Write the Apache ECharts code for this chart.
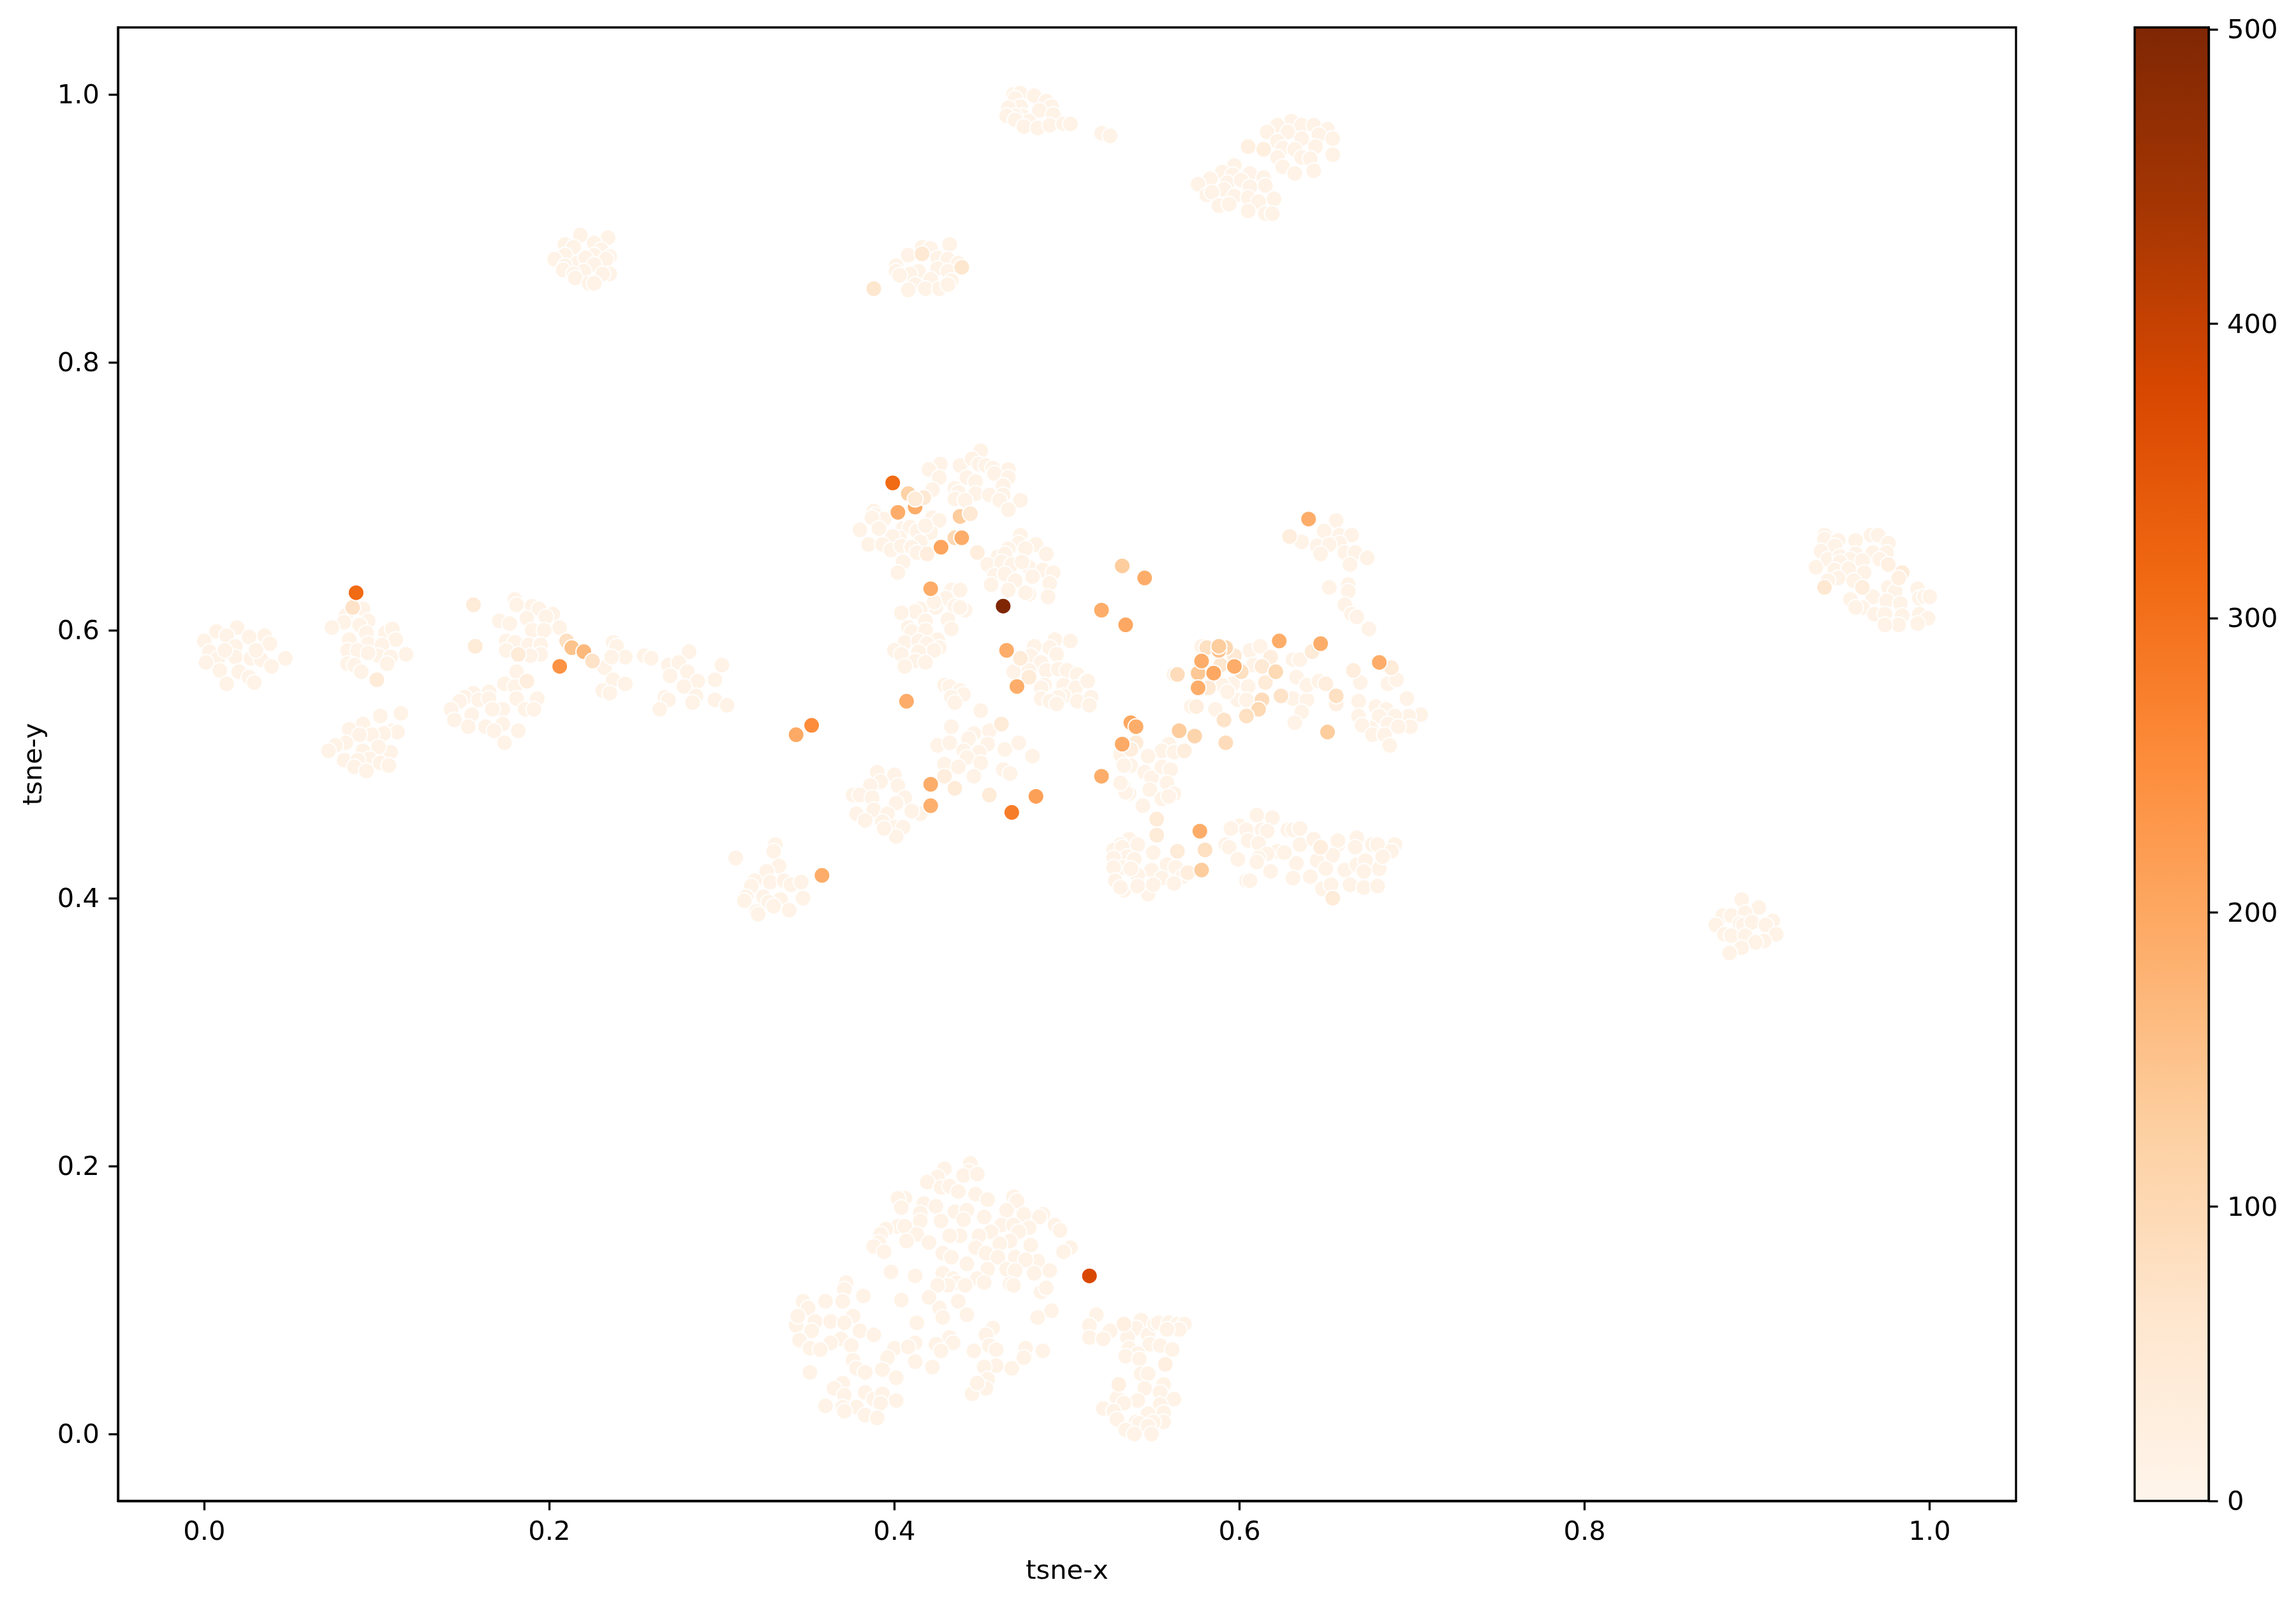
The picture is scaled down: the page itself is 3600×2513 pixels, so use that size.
<!DOCTYPE html>
<html>
<head>
<meta charset="utf-8">
<title>tsne scatter</title>
<script src="https://cdn.jsdelivr.net/npm/echarts@6/dist/echarts.min.js"></script>
<style>
    html, body { margin: 0; padding: 0; background: #fff; }
    #chart { width: 3600px; height: 2513px; }
</style>
</head>
<body>
<div id="chart"></div>
<script>
// tick labels
const xTicks = [0, 0.2, 0.4, 0.6, 0.8, 1];
const yTicks = [0, 0.2, 0.4, 0.6, 0.8, 1];
const barTicks = [0, 100, 200, 300, 400, 500];
const barMax = 500.65;
const paleCount = 8;

// matplotlib Oranges
const oranges = ["#fff5eb", "#fee6ce", "#fdd0a2", "#fdae6b", "#fd8d3c", "#f16913", "#d94801", "#a63603", "#7f2704"];

// clusters of [tsne-x, tsne-y], all of them at the low end of the colour scale
const leftA = [[.019,.602],[.007,.599],[.000,.592],[.013,.596],[.035,.596],[.026,.595],[.038,.590],[.018,.588],[.003,.584],[.008,.579],[.018,.580],[.027,.579],[.033,.578],[.047,.579],[.001,.576],[.039,.573],[.009,.570],[.020,.569],[.026,.565],[.029,.561],[.013,.560],[.030,.585],[.012,.585]];
const leftB = [[.092,.616],[.082,.611],[.081,.606],[.095,.607],[.074,.602],[.090,.604],[.094,.598],[.105,.598],[.109,.601],[.111,.593],[.084,.593],[.095,.590],[.103,.589],[.083,.585],[.089,.585],[.101,.581],[.095,.583],[.117,.582],[.108,.580],[.083,.575],[.087,.574],[.106,.575],[.091,.569]];
const leftC = [[.102,.536],[.114,.538],[.092,.530],[.084,.526],[.109,.525],[.112,.524],[.104,.523],[.097,.522],[.090,.522],[.082,.516],[.076,.514],[.072,.510],[.092,.510],[.108,.509],[.101,.513],[.081,.503],[.096,.504],[.089,.503],[.102,.501],[.107,.499],[.087,.498],[.094,.495]];
const leftD = [[.181,.569],[.174,.560],[.180,.558],[.165,.554],[.156,.553],[.151,.550],[.148,.547],[.159,.548],[.165,.549],[.181,.549],[.193,.549],[.173,.541],[.167,.541],[.143,.541],[.155,.537],[.186,.541],[.191,.541],[.145,.533],[.163,.528],[.153,.528],[.173,.530],[.168,.525],[.182,.525],[.174,.516]];
const leftE = [[.180,.623],[.181,.619],[.190,.618],[.194,.616],[.202,.612],[.198,.610],[.171,.607],[.177,.605],[.187,.609],[.206,.602],[.190,.600],[.197,.600],[.175,.592],[.180,.591],[.188,.589],[.195,.589],[.175,.585],[.195,.582],[.189,.581]];
const leftF = [[.237,.591],[.239,.588],[.232,.572],[.244,.580],[.236,.580],[.255,.581],[.259,.579],[.237,.563],[.244,.560],[.231,.555],[.235,.553],[.281,.584],[.269,.574],[.275,.576],[.280,.569],[.270,.566],[.300,.574],[.286,.562],[.296,.563],[.278,.558],[.285,.551],[.283,.546],[.296,.548],[.303,.544],[.267,.550],[.269,.548],[.264,.541]];
const topLeft = [[.218,.895],[.234,.893],[.209,.888],[.214,.886],[.226,.889],[.230,.884],[.209,.880],[.235,.879],[.203,.877],[.226,.880],[.233,.877],[.216,.874],[.221,.878],[.209,.872],[.226,.873],[.208,.869],[.235,.866],[.220,.868],[.231,.866],[.214,.866],[.215,.863],[.223,.859],[.226,.859]];
const topMid = [[.432,.888],[.416,.886],[.421,.885],[.408,.880],[.425,.878],[.431,.877],[.437,.874],[.401,.872],[.401,.868],[.414,.868],[.425,.870],[.409,.866],[.403,.865],[.431,.868],[.421,.862],[.433,.861],[.412,.858],[.408,.854],[.418,.855],[.426,.855],[.431,.858]];
const topPeak = [[.469,1.000],[.473,1.001],[.481,.999],[.488,.995],[.470,.997],[.491,.991],[.473,.991],[.466,.990],[.484,.988],[.474,.984],[.470,.984],[.465,.984],[.492,.985],[.478,.980],[.470,.981],[.475,.976],[.483,.975],[.490,.977],[.498,.978],[.502,.978],[.520,.971],[.525,.969]];
const topRight = [[.630,.980],[.622,.977],[.636,.977],[.643,.977],[.651,.974],[.616,.972],[.628,.972],[.646,.970],[.654,.967],[.636,.967],[.622,.965],[.625,.960],[.632,.959],[.644,.961],[.654,.955],[.636,.953],[.641,.952],[.622,.953],[.625,.946],[.632,.941],[.643,.943]];
const topRight2 = [[.597,.947],[.590,.942],[.606,.941],[.614,.938],[.583,.937],[.596,.940],[.593,.934],[.601,.936],[.576,.933],[.606,.931],[.615,.932],[.591,.929],[.581,.925],[.584,.927],[.597,.924],[.605,.923],[.620,.922],[.611,.920],[.588,.917],[.594,.918],[.605,.913],[.615,.911],[.619,.911]];
const upperCentre = [[.450,.734],[.4266,.724],[.420,.720],[.426,.714],[.438,.723],[.445,.728],[.449,.724],[.453,.723],[.457,.721],[.466,.720],[.458,.717],[.466,.714],[.442,.714],[.447,.711],[.422,.705],[.435,.706],[.437,.703],[.447,.702],[.455,.701],[.463,.708],[.463,.701],[.461,.697],[.473,.697],[.466,.690],[.435,.698],[.441,.697]];
const upperLeft = [[.388,.689],[.389,.686],[.394,.683],[.387,.684],[.422,.684],[.426,.682],[.380,.675],[.391,.676],[.405,.676],[.409,.677],[.413,.674],[.421,.673],[.403,.669],[.399,.670],[.385,.664],[.393,.664],[.398,.660],[.404,.663],[.415,.666],[.410,.662],[.413,.658],[.405,.651],[.402,.643],[.418,.678]];
const upperRight = [[.473,.671],[.482,.664],[.472,.665],[.476,.661],[.466,.661],[.460,.655],[.464,.657],[.488,.657],[.454,.649],[.462,.651],[.468,.649],[.478,.647],[.486,.645],[.492,.643],[.458,.641],[.464,.642],[.480,.640],[.470,.637],[.456,.634],[.490,.635],[.466,.630],[.478,.627],[.489,.625],[.476,.628],[.474,.651]];
const midLeft = [[.433,.630],[.438,.630],[.430,.624],[.424,.617],[.415,.616],[.412,.614],[.404,.613],[.435,.618],[.441,.615],[.438,.617],[.423,.621],[.431,.608],[.418,.607],[.408,.602],[.410,.599],[.418,.600],[.433,.601],[.425,.593],[.406,.591],[.414,.592],[.419,.590],[.426,.587],[.423,.585],[.400,.585],[.404,.582],[.414,.584],[.412,.577],[.418,.576],[.406,.573]];
const midRight = [[.493,.593],[.502,.592],[.481,.588],[.490,.587],[.494,.582],[.479,.581],[.485,.576],[.469,.569],[.478,.570],[.488,.570],[.495,.571],[.500,.570],[.506,.567],[.511,.562],[.487,.559],[.485,.557],[.498,.559],[.505,.557],[.498,.551],[.495,.550],[.485,.549],[.490,.547],[.514,.550],[.506,.547],[.494,.545],[.513,.544],[.512,.562],[.514,.550],[.513,.544]];
const lowerMid = [[.429,.559],[.432,.558],[.438,.555],[.440,.552],[.433,.550],[.435,.546],[.450,.540],[.433,.528],[.455,.525],[.446,.523],[.443,.519],[.425,.514],[.432,.516],[.454,.515],[.440,.510],[.464,.511],[.472,.516],[.449,.509],[.442,.505],[.480,.506],[.450,.501],[.429,.500],[.437,.498],[.463,.496],[.467,.493],[.446,.491],[.415,.463]];
const lowerLeft = [[.390,.494],[.400,.492],[.392,.487],[.386,.484],[.402,.484],[.376,.477],[.380,.477],[.387,.475],[.406,.475],[.401,.471],[.410,.465],[.378,.463],[.388,.466],[.396,.463],[.383,.458],[.393,.457],[.400,.453],[.405,.453],[.401,.446],[.394,.452]];
const smallCluster = [[.331,.440],[.330,.435],[.308,.430],[.333,.424],[.326,.420],[.319,.413],[.328,.412],[.336,.413],[.340,.410],[.346,.412],[.317,.409],[.314,.401],[.324,.401],[.334,.399],[.347,.400],[.327,.397],[.313,.398],[.320,.390],[.339,.391],[.330,.394],[.321,.388]];
const rightCentre = [[.578,.588],[.606,.585],[.612,.588],[.631,.578],[.635,.578],[.562,.567],[.608,.574],[.596,.560],[.590,.559],[.605,.558],[.599,.548],[.593,.554],[.604,.548],[.586,.541],[.572,.543],[.633,.565],[.631,.549],[.639,.548],[.639,.559],[.646,.562],[.636,.539],[.632,.531]];
const rightEdge = [[.670,.561],[.686,.560],[.691,.563],[.669,.547],[.697,.549],[.705,.537],[.698,.536],[.669,.536],[.679,.543],[.685,.541],[.681,.536],[.690,.536],[.686,.530],[.676,.527],[.699,.528],[.692,.528],[.671,.529],[.677,.522],[.684,.522],[.687,.514]];
const rightUpper = [[.656,.682],[.636,.666],[.649,.674],[.645,.663],[.658,.671],[.665,.671],[.658,.665],[.652,.664],[.661,.658],[.647,.657],[.667,.658],[.674,.654],[.664,.649],[.652,.632],[.663,.634],[.663,.629],[.661,.619],[.665,.612],[.668,.610],[.675,.601]];
const belowCentre = [[.559,.515],[.555,.510],[.547,.506],[.531,.507],[.562,.509],[.537,.499],[.533,.499],[.545,.494],[.549,.490],[.555,.498],[.560,.496],[.558,.486],[.548,.481],[.533,.483],[.536,.478],[.534,.479],[.531,.486],[.555,.474],[.562,.478],[.559,.476],[.544,.469]];
const lowerA = [[.536,.444],[.531,.440],[.541,.440],[.527,.436],[.532,.438],[.550,.434],[.535,.431],[.527,.430],[.539,.429],[.532,.423],[.527,.423],[.549,.421],[.558,.425],[.563,.423],[.541,.417],[.537,.422],[.528,.413],[.555,.415],[.567,.416],[.562,.411],[.533,.406],[.531,.408],[.547,.403],[.541,.409],[.550,.410]];
const lowerB = [[.610,.462],[.619,.460],[.600,.454],[.595,.452],[.604,.451],[.613,.451],[.616,.450],[.628,.451],[.631,.451],[.635,.452],[.605,.443],[.592,.440],[.594,.438],[.635,.440],[.611,.441],[.643,.444],[.657,.440],[.657,.443],[.668,.445],[.667,.438],[.677,.440],[.680,.440],[.690,.440],[.688,.435],[.654,.432],[.622,.435],[.626,.434],[.616,.433],[.611,.430],[.599,.429],[.610,.427],[.633,.426],[.645,.428],[.650,.422],[.661,.421],[.668,.425],[.673,.428],[.681,.422],[.683,.431],[.618,.420],[.631,.415],[.641,.416],[.672,.420],[.604,.413],[.606,.413],[.648,.407],[.653,.410],[.664,.410],[.672,.408],[.680,.409]];
const farRight = [[.939,.671],[.939,.668],[.947,.667],[.957,.667],[.966,.671],[.970,.671],[.976,.665],[.945,.663],[.937,.659],[.941,.653],[.948,.655],[.957,.657],[.967,.658],[.975,.658],[.954,.653],[.961,.652],[.971,.653],[.934,.647],[.948,.651],[.945,.645],[.953,.646],[.962,.643],[.947,.639],[.941,.637],[.956,.637],[.976,.632],[.980,.629],[.954,.623],[.967,.625],[.993,.631],[.994,.624],[.997,.625],[1.000,.625],[.975,.622],[.983,.620],[.961,.617],[.968,.612],[.974,.612],[.984,.611],[.994,.612],[.999,.609],[.993,.605],[.982,.604],[.974,.604],[.957,.617]];
const farRightLow = [[.891,.399],[.901,.393],[.880,.387],[.885,.387],[.893,.389],[.909,.383],[.876,.380],[.890,.381],[.892,.380],[.897,.382],[.905,.380],[.881,.373],[.885,.372],[.911,.373],[.893,.372],[.904,.368],[.899,.367],[.891,.363],[.884,.359]];
const bottomBig = [[.444,.202],[.429,.198],[.443,.196],[.440,.193],[.448,.194],[.425,.192],[.419,.188],[.427,.184],[.432,.185],[.437,.181],[.447,.179],[.454,.175],[.469,.177],[.471,.174],[.406,.176],[.402,.176],[.404,.169],[.417,.172],[.424,.170],[.465,.167],[.475,.164],[.486,.164],[.484,.162],[.435,.166],[.442,.167],[.415,.165],[.427,.159],[.415,.159],[.452,.162],[.440,.160],[.402,.155],[.406,.155],[.395,.153],[.392,.149],[.462,.156],[.469,.156],[.478,.154],[.472,.151],[.493,.156],[.496,.152],[.456,.151],[.449,.148],[.438,.148],[.432,.148],[.413,.149],[.407,.144],[.420,.143],[.391,.143],[.388,.140],[.394,.136],[.467,.144],[.479,.141],[.447,.139],[.461,.142],[.428,.135],[.433,.132],[.453,.135],[.442,.127],[.460,.132],[.470,.132],[.483,.129],[.476,.130],[.502,.139],[.498,.136],[.454,.123],[.465,.123],[.490,.122],[.481,.120],[.470,.122],[.398,.121],[.412,.118],[.428,.120],[.434,.116],[.436,.113],[.431,.111],[.448,.116],[.452,.113],[.425,.111],[.441,.111],[.467,.112],[.469,.111],[.485,.106],[.488,.109]];
const bottomLow = [[.426,.094],[.428,.087],[.442,.089],[.413,.083],[.491,.092],[.483,.087],[.457,.079],[.453,.074],[.432,.072],[.412,.068],[.424,.067],[.434,.068],[.427,.062],[.400,.064],[.408,.065],[.396,.057],[.446,.062],[.455,.066],[.459,.063],[.476,.064],[.486,.062],[.475,.057],[.412,.054],[.422,.050],[.459,.051],[.452,.050],[.468,.049],[.454,.041],[.453,.034],[.445,.030],[.448,.038],[.420,.102],[.437,.099],[.404,.100]];
const bottomLeft = [[.372,.113],[.371,.108],[.382,.103],[.370,.099],[.347,.099],[.360,.099],[.350,.094],[.376,.088],[.354,.084],[.363,.084],[.371,.083],[.343,.081],[.344,.088],[.352,.077],[.380,.077],[.388,.074],[.369,.071],[.363,.068],[.345,.070],[.375,.066],[.351,.064],[.357,.063],[.376,.055],[.378,.049],[.351,.046],[.393,.048],[.383,.046],[.401,.042],[.370,.038],[.365,.034],[.383,.031],[.388,.026],[.371,.029],[.393,.030],[.401,.025],[.360,.021],[.392,.023],[.378,.020],[.370,.020],[.383,.014],[.390,.012],[.371,.017]];
const bottomRight = [[.517,.089],[.513,.081],[.525,.077],[.513,.072],[.521,.071],[.543,.085],[.540,.079],[.535,.072],[.547,.074],[.551,.082],[.553,.083],[.559,.083],[.564,.082],[.568,.082],[.565,.078],[.558,.078],[.548,.067],[.554,.066],[.561,.063],[.536,.064],[.541,.060],[.534,.058],[.542,.056],[.543,.045],[.547,.045],[.545,.034],[.556,.037],[.554,.031],[.562,.026],[.541,.025],[.529,.027],[.533,.023],[.554,.022],[.521,.019],[.527,.017],[.556,.016],[.547,.015],[.529,.011],[.540,.009],[.556,.009],[.550,.009],[.542,.008],[.547,.006],[.534,.003],[.539,.000],[.549,.000]];

// points with a visible tint, [tsne-x, tsne-y, value]
const tinted = [[.156,.619,40],[.157,.588,40],[.100,.563,40],[.187,.562,30],[.182,.582,40],[.605,.961,22],[.614,.959,25],[.976,.649,20],[.984,.643,40],[.982,.639,22],[.961,.632,30],[.939,.632,55],[.429,.491,28],[.435,.482,40],[.455,.477,40],[.448,.658,30],[.419,.657,30],[.473,.579,40],[.478,.565,40],[.462,.530,40],[.540,.516,40],[.537,.511,30],[.568,.510,30],[.552,.459,40],[.552,.447,40],[.564,.435,40],[.570,.419,30],[.647,.438,30],[.654,.400,40],[.575,.543,30],[.582,.557,50],[.597,.581,50],[.618,.580,30],[.642,.584,40],[.589,.574,60],[.615,.561,40],[.613,.573,50],[.650,.560,30],[.656,.545,20],[.666,.570,30],[.688,.572,40],[.629,.670,30],[.533,.082,20],[.557,.052,20],[.530,.037,20],[.591,.533,70],[.624,.551,70],[.656,.551,80],[.613,.548,90],[.611,.541,100],[.604,.536,80],[.601,.569,80],[.564,.567,90],[.621,.569,100],[.086,.617,70]];

// the strongest points, drawn last, [tsne-x, tsne-y, value]
const strong = [[.592,.516,90],[.580,.436,80],[.574,.521,110],[.565,.525,130],[.651,.524,130],[.578,.421,130],[.592,.587,100],[.581,.587,80],[.588,.585,150],[.588,.588,130],[.576,.568,140],[.532,.648,130],[.408,.702,120],[.412,.692,190],[.417,.699,50],[.412,.698,40],[.438,.685,130],[.444,.687,50],[.435,.669,100],[.439,.669,190],[.402,.688,190],[.427,.662,205],[.421,.631,190],[.465,.585,190],[.471,.558,190],[.407,.547,190],[.537,.531,200],[.540,.528,190],[.532,.515,195],[.520,.491,190],[.545,.639,190],[.520,.615,190],[.534,.604,200],[.623,.592,190],[.647,.590,190],[.578,.577,190],[.597,.573,190],[.576,.557,190],[.585,.568,200],[.681,.576,190],[.640,.683,190],[.577,.450,190],[.358,.417,190],[.421,.485,190],[.421,.469,185],[.343,.522,195],[.352,.529,250],[.482,.476,215],[.468,.464,280],[.399,.710,312],[.088,.628,312],[.210,.592,80],[.213,.587,150],[.220,.584,170],[.225,.577,70],[.206,.573,240],[.388,.855,60],[.416,.881,50],[.439,.871,60],[.513,.118,375],[.463,.618,500]];

const clusters = [leftA, leftB, leftC, leftD, leftE, leftF, topLeft, topMid, topPeak, topRight, topRight2, upperCentre, upperLeft, upperRight, midLeft, midRight, lowerMid, lowerLeft, smallCluster, rightCentre, rightEdge, rightUpper, belowCentre, lowerA, lowerB, farRight, farRightLow, bottomBig, bottomLow, bottomLeft, bottomRight];

let points = [];
clusters.forEach((c) => {
    c.forEach((p) => points.push([p[0], p[1], paleCount]));
});
points = points.concat(tinted, strong);

const font = "DejaVu Sans";
const lineW = 3.33;
const labelStyle = { color: "#000", fontFamily: font, fontSize: 41.67 };

const myChart = echarts.init(document.getElementById("chart"), null, { renderer: "canvas" });
myChart.setOption({
    animation: false,
    backgroundColor: "#fff",
    grid: [
        { left: 185, top: 43, width: 2976, height: 2310, show: true, borderColor: "#000", borderWidth: lineW, backgroundColor: "#fff" },
        { left: 3347, top: 43, width: 116, height: 2310, show: true, borderColor: "#000", borderWidth: lineW, z: 5 },
    ],
    xAxis: [
        {
            gridIndex: 0,
            type: "value",
            min: -0.05,
            max: 1.05,
            name: "tsne-x",
            nameLocation: "middle",
            nameGap: 90,
            nameTextStyle: labelStyle,
            splitLine: { show: false },
            axisLine: { onZero: false, lineStyle: { color: "#000", width: lineW } },
            axisTick: { customValues: xTicks, length: 14.6, lineStyle: { color: "#000", width: lineW } },
            axisLabel: { ...labelStyle, customValues: xTicks, margin: 29, formatter: (v) => v.toFixed(1) },
        },
        { gridIndex: 1, type: "category", data: [""], show: false },
    ],
    yAxis: [
        {
            gridIndex: 0,
            type: "value",
            min: -0.05,
            max: 1.05,
            name: "tsne-y",
            nameLocation: "middle",
            nameGap: 110,
            nameTextStyle: labelStyle,
            splitLine: { show: false },
            axisLine: { onZero: false, lineStyle: { color: "#000", width: lineW } },
            axisTick: { customValues: yTicks, length: 14.6, lineStyle: { color: "#000", width: lineW } },
            // a short line box nudges the digits down onto the tick
            axisLabel: { ...labelStyle, customValues: yTicks, margin: 29, verticalAlign: "top", lineHeight: 7, formatter: (v) => v.toFixed(1) },
        },
        {
            gridIndex: 1,
            type: "value",
            position: "right",
            min: 0,
            max: barMax,
            splitLine: { show: false },
            axisLine: { show: true, onZero: false, lineStyle: { color: "#000", width: lineW } },
            axisTick: { show: true, customValues: barTicks, length: 14.6, lineStyle: { color: "#000", width: lineW } },
            axisLabel: { ...labelStyle, customValues: barTicks, margin: 29, verticalAlign: "top", lineHeight: 7, formatter: (v) => String(v) },
        },
    ],
    visualMap: {
        show: false,
        type: "continuous",
        seriesIndex: 0,
        dimension: 2,
        min: 0,
        max: barMax,
        inRange: { color: oranges },
    },
    series: [
        {
            type: "scatter",
            xAxisIndex: 0,
            yAxisIndex: 0,
            data: points,
            symbolSize: 25,
            progressive: 0,
            itemStyle: { borderColor: "#fff", borderWidth: 2, opacity: 1 },
        },
        {
            type: "bar",
            xAxisIndex: 1,
            yAxisIndex: 1,
            data: [barMax],
            barWidth: "100%",
            itemStyle: {
                color: {
                    type: "linear",
                    x: 0,
                    y: 1,
                    x2: 0,
                    y2: 0,
                    colorStops: oranges.map((c, i) => ({ offset: i / (oranges.length - 1), color: c })),
                },
            },
        },
    ],
});
</script>
</body>
</html>
